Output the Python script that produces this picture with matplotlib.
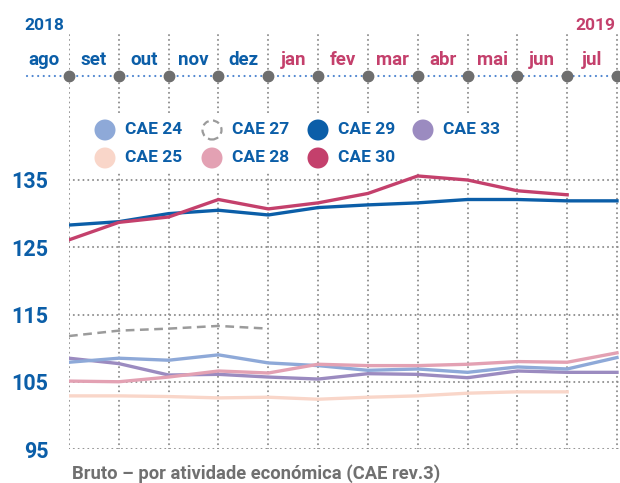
import matplotlib
matplotlib.use('Agg')
import matplotlib.pyplot as plt
from matplotlib.patches import Circle, Rectangle
from matplotlib.lines import Line2D
from matplotlib.transforms import IdentityTransform

# ---------------- data ----------------
months = ['ago', 'set', 'out', 'nov', 'dez', 'jan', 'fev', 'mar', 'abr', 'mai', 'jun', 'jul']
month_year = [2018, 2018, 2018, 2018, 2018, 2019, 2019, 2019, 2019, 2019, 2019, 2019]
years = ['2018', '2019']
yticks = [95, 105, 115, 125, 135]

cae24 = [107.9, 108.5, 108.2, 109.0, 107.8, 107.4, 106.7, 106.9, 106.4, 107.2, 106.9, 108.6]
cae25 = [102.9, 102.9, 102.8, 102.6, 102.7, 102.4, 102.7, 102.9, 103.3, 103.5, 103.5]
cae27 = [111.8, 112.6, 112.9, 113.3, 112.9]
cae28 = [105.1, 105.0, 105.7, 106.6, 106.3, 107.6, 107.4, 107.4, 107.6, 108.0, 107.9, 109.3]
cae29 = [128.3, 128.8, 130.0, 130.5, 129.8, 130.9, 131.3, 131.6, 132.1, 132.1, 131.9, 131.9]
cae30 = [126.1, 128.7, 129.5, 132.1, 130.7, 131.6, 133.0, 135.6, 135.0, 133.4, 132.8]
cae33 = [108.5, 107.7, 106.0, 106.1, 105.7, 105.4, 106.2, 106.1, 105.6, 106.6, 106.4, 106.4]

footer = 'Bruto – por atividade económica (CAE rev.3)'

# ---------------- style ----------------
BLUE = '#0b5ea8'
PINK = '#c4406c'
GRID = '#8f8f8f'
W, H = 620, 483

plt.rcParams['font.family'] = ['Roboto', 'DejaVu Sans']
plt.rcParams['font.weight'] = 'bold'

fig = plt.figure(figsize=(W / 100, H / 100), dpi=100)

def fx(px):
    return px / W

def fy(py):
    return 1 - py / H

ax_left, ax_right, ax_bottom, ax_top = 69, 620, 449, 32
ax = fig.add_axes([fx(ax_left), fy(ax_bottom), fx(ax_right - ax_left), (ax_bottom - ax_top) / H])
step = (617 - 69) / 11.0
ax.set_xlim(0, (ax_right - ax_left) / step)
pxunit = (449 - 180) / 40.0
ax.set_ylim(95, 95 + (ax_bottom - ax_top) / pxunit)
for s in ax.spines.values():
    s.set_visible(False)
ax.set_xticks([])
ax.set_yticks(yticks)
ax.set_yticklabels([str(v) for v in yticks], fontsize=15.5, fontweight='bold', color=BLUE)
ax.tick_params(axis='y', length=0, pad=15)

dot = (0, (0.01, 2.3))
for v in yticks:
    ax.axhline(v, color=GRID, lw=1.5, ls=dot, dash_capstyle='round', zorder=1)
for i in range(len(months)):
    ax.axvline(i, color=GRID, lw=1.5, ls=dot, dash_capstyle='round', zorder=1)

# white box behind legend
fig.add_artist(Rectangle((fx(86), fy(173)), fx(505 - 86), (173 - 113) / H,
                         facecolor='white', edgecolor='none', zorder=2))

# ---------------- series ----------------
series = [
    ('CAE 25', cae25, '#f9d6c9', '-'),
    ('CAE 27', cae27, '#9b9b9b', '--'),
    ('CAE 33', cae33, '#9b8bc0', '-'),
    ('CAE 24', cae24, '#8ea9d8', '-'),
    ('CAE 28', cae28, '#e3a1b3', '-'),
    ('CAE 29', cae29, BLUE, '-'),
    ('CAE 30', cae30, PINK, '-'),
]
for name, vals, col, ls in series:
    x = list(range(len(vals)))
    if ls == '--':
        ax.plot(x, vals, color=col, lw=1.8, ls=(0, (3.5, 2.2)), zorder=3)
    else:
        ax.plot(x, vals, color=col, lw=2.4, zorder=3, solid_joinstyle='round')

# ---------------- header: timeline & months ----------------
tl_py = 76
tl = Line2D([fx(27), 1.0], [fy(tl_py), fy(tl_py)], transform=fig.transFigure,
            color='#4f86d0', lw=1.6, ls=(0, (0.01, 2.5)), dash_capstyle='round', zorder=4)
fig.add_artist(tl)
for i, (m, yr) in enumerate(zip(months, month_year)):
    xpx = ax_left + i * step
    col = BLUE if yr == 2018 else PINK
    fig.text(fx(xpx - step / 2), fy(65), m, ha='center', va='baseline',
             fontsize=13.5, fontweight='bold', color=col)
    fig.add_artist(Line2D([fx(xpx)], [fy(tl_py)], transform=fig.transFigure,
                          marker='o', ms=7.5, color='#6e6e6e', mec='#6e6e6e', zorder=5))
fig.text(fx(24), fy(30), years[0], ha='left', va='baseline', fontsize=12.5,
         fontweight='bold', color=BLUE)
fig.text(fx(615), fy(30), years[1], ha='right', va='baseline', fontsize=12.5,
         fontweight='bold', color=PINK)

# ---------------- legend ----------------
leg_order = [('CAE 24', 0, 0), ('CAE 27', 1, 0), ('CAE 29', 2, 0), ('CAE 33', 3, 0),
             ('CAE 25', 0, 1), ('CAE 28', 1, 1), ('CAE 30', 2, 1)]
col_px = [105, 212, 318, 423]
row_py = [130, 158]
lookup = {name: (col, ls) for name, vals, col, ls in series}
for name, c, r in leg_order:
    col, ls = lookup[name]
    cx, cy = col_px[c], H - row_py[r]
    if ls == '--':
        circ = Circle((cx, cy), 9.5, transform=IdentityTransform(), facecolor='white',
                      edgecolor='#9b9b9b', lw=1.6, ls=(0, (3, 2)), zorder=6)
    else:
        circ = Circle((cx, cy), 10.5, transform=IdentityTransform(), facecolor=col,
                      edgecolor='none', zorder=6)
    fig.add_artist(circ)
    fig.text(fx(cx + 20), fy(row_py[r]), name, ha='left', va='center',
             fontsize=12.5, fontweight='bold', color=BLUE, zorder=6)

# ---------------- footer ----------------
fig.text(fx(72), fy(474), footer, ha='left', va='center', fontsize=13.2,
         fontweight='bold', color='#707070')

fig.savefig('out.png', dpi=100)
